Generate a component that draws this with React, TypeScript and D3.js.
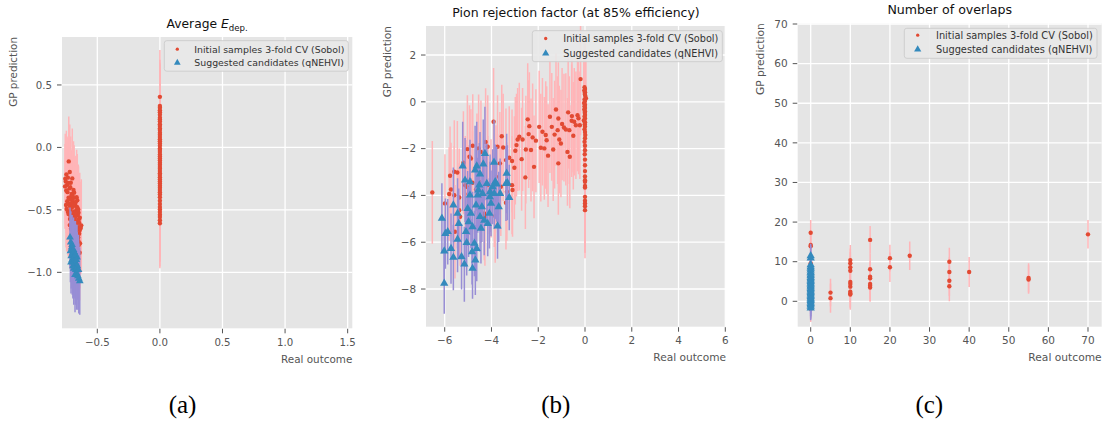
import React, { useEffect } from 'react';
import * as d3 from 'd3';

type P = [number, number, number]; // [real outcome, GP prediction, error half-width]

// ---------------- Panel (a): Average E_dep. ----------------
const A_SOBOL: P[] = [
  [-0.728,-0.112,0.36],[-0.720,-0.197,0.38],[-0.747,-0.216,0.35],[-0.735,-0.242,0.33],[-0.756,-0.251,0.36],
  [-0.700,-0.248,0.40],[-0.712,-0.283,0.37],[-0.742,-0.300,0.35],[-0.758,-0.312,0.34],[-0.722,-0.328,0.36],
  [-0.690,-0.341,0.39],[-0.738,-0.358,0.35],[-0.685,-0.362,0.38],[-0.705,-0.372,0.35],[-0.708,-0.391,0.36],
  [-0.730,-0.402,0.36],[-0.665,-0.398,0.38],[-0.690,-0.404,0.37],[-0.700,-0.421,0.37],[-0.660,-0.423,0.37],
  [-0.740,-0.431,0.35],[-0.680,-0.442,0.36],[-0.725,-0.452,0.36],[-0.750,-0.461,0.34],[-0.675,-0.463,0.38],
  [-0.720,-0.468,0.37],[-0.695,-0.474,0.38],[-0.705,-0.482,0.36],[-0.660,-0.479,0.36],[-0.745,-0.493,0.34],
  [-0.715,-0.502,0.36],[-0.665,-0.501,0.37],[-0.685,-0.512,0.37],[-0.735,-0.514,0.35],[-0.650,-0.522,0.37],
  [-0.730,-0.533,0.35],[-0.692,-0.531,0.36],[-0.700,-0.543,0.36],[-0.655,-0.541,0.36],[-0.672,-0.552,0.38],
  [-0.712,-0.551,0.37],[-0.640,-0.562,0.36],[-0.718,-0.573,0.35],[-0.680,-0.571,0.37],[-0.690,-0.584,0.37],
  [-0.700,-0.592,0.36],[-0.660,-0.593,0.36],[-0.645,-0.604,0.37],[-0.705,-0.611,0.36],[-0.668,-0.612,0.36],
  [-0.628,-0.624,0.37],[-0.720,-0.622,0.35],[-0.680,-0.633,0.37],[-0.690,-0.641,0.37],[-0.655,-0.642,0.36],
  [-0.710,-0.652,0.35],[-0.662,-0.653,0.36],[-0.640,-0.661,0.36],[-0.695,-0.664,0.35],[-0.670,-0.672,0.37],
  [-0.645,-0.691,0.36],[-0.700,-0.702,0.36],[-0.675,-0.704,0.36],[-0.682,-0.713,0.36],[-0.652,-0.722,0.37],
  [-0.658,-0.734,0.35],[-0.650,-0.751,0.35],[-0.672,-0.762,0.37],[-0.648,-0.781,0.36],[-0.665,-0.802,0.36],
  [-0.641,-0.843,0.38],
  [-0.752,-0.272,0.35],[-0.733,-0.285,0.36],[-0.716,-0.318,0.37],[-0.748,-0.345,0.34],[-0.697,-0.386,0.37],
  [-0.718,-0.415,0.36],[-0.672,-0.436,0.37],[-0.708,-0.447,0.36],[-0.688,-0.458,0.37],[-0.652,-0.497,0.36],
  [-0.722,-0.521,0.36],[-0.676,-0.524,0.37],[-0.703,-0.565,0.36],[-0.648,-0.578,0.37],[-0.664,-0.627,0.36],
  [-0.693,-0.622,0.36],[-0.632,-0.645,0.37],[-0.676,-0.687,0.36],[-0.657,-0.706,0.36],[-0.668,-0.742,0.37],
  [-0.638,-0.768,0.36],[-0.655,-0.823,0.37],
  [0,0.405,0.375],[0,0.332,0.37],[0,0.318,0.36],[0,0.297,0.37],[0,0.281,0.38],[0,0.262,0.36],[0,0.238,0.37],
  [0,0.224,0.37],[0,0.207,0.36],[0,0.186,0.38],[0,0.171,0.37],[0,0.152,0.36],[0,0.139,0.37],[0,0.118,0.37],
  [0,0.101,0.36],[0,0.083,0.38],[0,0.066,0.37],[0,0.049,0.36],[0,0.031,0.37],[0,0.014,0.37],[0,-0.008,0.36],
  [0,-0.021,0.38],[0,-0.037,0.37],[0,-0.056,0.36],[0,-0.072,0.37],[0,-0.089,0.37],[0,-0.104,0.36],[0,-0.123,0.38],
  [0,-0.138,0.37],[0,-0.157,0.36],[0,-0.171,0.37],[0,-0.189,0.37],[0,-0.206,0.36],[0,-0.221,0.38],[0,-0.239,0.37],
  [0,-0.256,0.36],[0,-0.273,0.37],[0,-0.288,0.37],[0,-0.306,0.36],[0,-0.322,0.38],[0,-0.341,0.37],[0,-0.359,0.36],
  [0,-0.377,0.37],[0,-0.398,0.37],[0,-0.426,0.36],[0,-0.452,0.37],[0,-0.476,0.36],[0,-0.497,0.37],[0,-0.516,0.36],
  [0,-0.538,0.37],[0,-0.557,0.36],[0,-0.583,0.37],[0,-0.607,0.36],
];
const A_QNEHVI: P[] = [
  [-0.718,-0.72,0.24],[-0.702,-0.78,0.24],[-0.712,-0.76,0.25],[-0.705,-0.80,0.26],[-0.715,-0.83,0.25],
  [-0.683,-0.84,0.25],[-0.698,-0.85,0.27],[-0.690,-0.82,0.26],[-0.708,-0.87,0.26],[-0.685,-0.88,0.27],
  [-0.662,-0.88,0.26],[-0.700,-0.90,0.28],[-0.675,-0.86,0.27],[-0.710,-0.92,0.25],[-0.692,-0.92,0.28],
  [-0.670,-0.93,0.27],[-0.680,-0.94,0.27],[-0.668,-0.90,0.28],[-0.695,-0.95,0.26],[-0.660,-0.95,0.27],
  [-0.688,-0.97,0.29],[-0.672,-0.98,0.28],[-0.650,-0.98,0.28],[-0.665,-1.01,0.29],[-0.678,-1.02,0.30],
  [-0.655,-1.03,0.27],[-0.648,-1.05,0.28],[-0.640,-1.07,0.27],
];
const A_XTICKS = [-0.5, 0, 0.5, 1, 1.5];
const A_YTICKS = [-1, -0.5, 0, 0.5];

// ---------------- Panel (b): Pion rejection factor ----------------
const B_SOBOL: P[] = [
  [-6.53,-3.87,2.2],[-5.99,-4.34,2.1],[-5.81,-3.94,2.0],[-5.77,-3.16,2.1],[-5.73,-3.75,2.0],[-5.59,-2.99,2.2],
  [-5.59,-3.99,2.1],[-5.56,-5.55,2.0],[-5.46,-3.02,2.2],[-5.38,-4.09,2.1],[-5.38,-4.63,2.0],[-5.34,-4.91,2.1],
  [-5.12,-3.56,2.1],[-5.06,-3.63,2.0],[-5.03,-2.02,2.3],[-4.98,-3.94,2.1],[-4.94,-2.35,2.2],[-4.88,-2.42,2.1],
  [-4.81,-3.46,2.2],[-4.80,-1.88,2.2],[-4.66,-3.75,2.1],[-4.55,-1.99,2.3],[-4.52,-3.42,2.1],[-4.45,-2.14,2.2],
  [-4.45,-4.03,2.0],[-4.31,-4.77,2.0],[-4.28,-4.91,2.1],[-4.25,-1.72,2.3],[-4.16,-1.92,2.2],[-4.16,-3.56,2.1],
  [-4.02,-3.70,2.1],[-3.91,-0.85,2.3],[-3.88,-4.20,2.0],[-3.84,-4.88,2.0],[-3.81,-3.20,2.2],[-3.74,-1.92,2.2],
  [-3.74,-3.49,2.1],[-3.64,-2.63,2.2],[-3.60,-3.63,2.1],[-3.56,-1.47,2.2],[-3.50,-1.95,2.3],[-3.38,-2.49,2.2],
  [-3.38,-4.31,2.0],[-3.34,-3.84,2.1],[-3.24,-2.39,2.2],[-3.12,-2.53,2.2],[-3.12,-3.56,2.1],[-3.10,-3.77,2.0],
  [-2.98,-2.09,2.3],[-2.93,-1.85,2.2],[-2.88,-1.61,2.2],[-2.81,-1.49,2.3],[-2.67,-1.61,2.2],[-2.55,-3.23,2.2],
  [-2.53,-2.04,2.3],[-2.41,-1.38,2.3],[-2.38,-1.04,2.3],[-2.31,-2.06,2.2],[-2.24,-1.52,2.3],[-2.10,-1.66,2.2],
  [-1.96,-1.07,2.4],[-1.89,-1.96,2.3],[-1.74,-1.99,2.2],[-1.68,-1.42,2.3],[-1.64,-1.64,2.3],[-1.50,-0.64,2.4],
  [-1.42,-1.07,2.3],[-1.36,-2.04,2.2],[-1.24,-0.33,2.4],[-1.17,-1.21,2.3],[-1.14,-0.71,2.4],[-1.14,-2.63,2.2],
  [-1.10,-1.61,2.3],[-1.03,-1.78,2.3],[-0.90,-1.10,2.3],[-0.82,-1.18,2.4],[-0.75,-2.14,2.3],[-0.67,-1.21,2.3],
  [-0.65,-2.35,2.2],[-0.57,-0.81,2.4],[-0.56,-0.61,2.4],[-0.46,-0.85,2.3],[-0.39,-1.00,2.3],[-0.32,-0.57,2.4],
  [-0.22,-1.00,2.3],[-0.19,0.97,2.4],
  [-2.71,-2.45,2.2],[-2.18,-2.78,2.2],[-1.82,-1.28,2.3],[-1.58,-2.30,2.2],[-0.98,-0.95,2.4],[-0.72,-0.45,2.4],
  [-0.50,-1.45,2.3],[-0.28,-0.70,2.4],[-3.02,-2.82,2.2],[-4.62,-2.70,2.2],[-5.20,-2.60,2.2],[-2.45,-0.75,2.4],
  [-1.30,-1.40,2.3],
  [-0.02,0.62,2.0],[0,0.55,2.1],[-0.03,0.48,2.0],[0,0.41,2.1],[-0.01,0.33,2.0],[0.01,0.26,2.1],[0.04,0.15,2.0],
  [-0.02,0.10,2.1],[0,0.03,2.0],[-0.04,-0.05,2.1],[0,-0.12,2.0],[-0.02,-0.19,2.1],[0,-0.26,2.0],[-0.03,-0.33,2.1],
  [0,-0.41,2.0],[-0.01,-0.47,2.1],[0,-0.56,2.0],[-0.02,-0.63,2.1],[0,-0.71,2.0],[-0.05,-0.80,2.1],[0,-0.87,2.0],
  [-0.01,-0.96,2.1],[0,-1.06,2.0],[-0.02,-1.17,2.1],[0,-1.29,2.0],[0.01,-1.42,2.1],[0,-1.56,2.0],[-0.02,-1.71,2.1],
  [0,-1.88,2.0],[0,-2.07,2.1],[-0.01,-2.24,2.0],[0,-2.47,2.1],[0,-2.71,2.0],[0,-2.96,2.1],[0,-3.19,2.0],
  [0,-3.35,2.1],[0,-3.42,2.0],[0,-3.60,2.1],[0,-3.66,2.0],[0,-4.06,2.1],[0,-4.23,2.0],[0,-4.34,2.1],
  [0,-4.46,2.0],[0,-4.63,2.06],
];
const B_QNEHVI: P[] = [
  [-6.12,-4.98,1.5],[-6.02,-6.38,1.4],[-6.02,-7.76,1.3],[-5.97,-5.63,1.5],[-5.87,-5.55,1.4],[-5.73,-6.27,1.5],
  [-5.63,-6.65,1.4],[-5.63,-4.41,1.6],[-5.45,-4.77,1.5],[-5.45,-5.88,1.4],[-5.40,-5.20,1.5],[-5.28,-6.62,1.4],
  [-5.23,-2.75,1.9],[-5.16,-6.94,1.6],[-5.13,-3.35,1.8],[-5.09,-5.55,1.5],[-5.06,-6.02,1.4],[-5.02,-4.56,1.6],
  [-4.98,-5.13,1.5],[-4.92,-3.99,1.7],[-4.92,-3.42,1.8],[-4.88,-4.77,1.5],[-4.83,-6.41,1.4],[-4.81,-7.12,1.3],
  [-4.81,-5.34,1.5],[-4.73,-6.05,1.4],[-4.70,-2.92,1.9],[-4.69,-6.76,1.5],[-4.66,-4.41,1.5],[-4.63,-2.75,1.9],
  [-4.63,-6.27,1.4],[-4.59,-3.99,1.6],[-4.56,-3.77,1.7],[-4.52,-3.56,1.8],[-4.49,-3.09,1.8],[-4.49,-4.91,1.5],
  [-4.45,-5.41,1.5],[-4.41,-4.49,1.5],[-4.38,-3.92,1.6],[-4.35,-2.66,1.9],[-4.31,-5.06,1.5],[-4.28,-2.21,2.0],
  [-4.20,-3.49,1.7],[-4.16,-5.20,1.4],[-4.09,-4.77,1.5],[-4.07,-4.06,1.5],[-4.06,-3.85,1.6],[-4.02,-4.34,1.4],
  [-3.95,-3.63,1.6],[-3.89,-2.59,1.8],[-3.88,-3.92,1.5],[-3.84,-3.42,1.6],[-3.78,-3.52,1.6],[-3.74,-5.31,1.4],
  [-3.69,-4.49,1.5],[-3.63,-3.92,1.5],[-3.38,-3.49,1.6],[-3.35,-3.06,1.7],[-3.32,-3.46,1.6],[-3.24,-4.09,1.4],
];
const B_XTICKS = [-6, -4, -2, 0, 2, 4, 6];
const B_YTICKS = [-8, -6, -4, -2, 0, 2];

// ---------------- Panel (c): Number of overlaps ----------------
const C_SOBOL: P[] = [
  [0,17.3,3.2],[0,14.2,3.4],[0,13.9,3.3],[0,9.6,3.5],[0,8.4,3.4],[0,6.9,3.3],[0,5.3,3.5],[0,3.6,3.4],
  [0,2.1,3.5],[0,0.6,3.3],[0,-0.9,3.4],[0,-1.9,3.3],
  [5,2.2,3.5],[5,0.8,3.7],
  [10,10.4,3.8],[10,9.6,3.7],[10,8.6,3.8],[10,7.7,3.7],[10,4.9,3.8],[10,4.4,3.7],[10,3.7,3.8],[10,2.4,3.9],
  [10,2.0,3.8],[10,1.7,3.8],
  [15,15.5,3.5],[15,8.1,3.9],[15,6.2,3.8],[15,5.8,3.8],[15,4.4,3.9],[15,3.9,3.8],[15,3.5,3.6],
  [20,10.9,3.4],[20,8.6,3.7],
  [25,11.5,3.6],
  [35,10.0,3.5],[35,7.4,3.7],[35,5.2,3.8],[35,3.8,3.8],
  [40,7.4,3.8],
  [55,5.9,3.7],[55,5.5,3.6],
  [70,16.9,3.6],
];
const C_QNEHVI: P[] = [
  [0,11.5,3.0],[0,10.9,3.1],[0,9.2,3.0],[0,8.7,2.9],[0,8.3,3.0],[0,7.9,3.1],[0,7.4,3.0],[0,7.1,2.9],
  [0,6.7,3.0],[0,6.4,3.1],[0,6.0,3.0],[0,5.7,2.9],[0,5.3,3.0],[0,5.0,3.1],[0,4.6,3.0],[0,4.3,2.9],
  [0,3.9,3.0],[0,3.6,3.1],[0,3.2,3.0],[0,2.9,2.9],[0,2.5,3.0],[0,2.2,3.1],[0,1.9,3.0],[0,1.5,2.9],
  [0,1.2,3.0],[0,0.8,3.1],[0,0.5,3.0],[0,0.2,2.9],[0,-0.2,3.0],[0,-0.6,3.1],[0,-0.9,3.0],[0,-1.3,3.1],
  [0,-1.7,3.1],
];
const C_XTICKS = [0, 10, 20, 30, 40, 50, 60, 70];
const C_YTICKS = [0, 10, 20, 30, 40, 50, 60, 70];

const LEGEND_LABELS = ['Initial samples 3-fold CV (Sobol)', 'Suggested candidates (qNEHVI)'];
const X_LABEL = 'Real outcome';
const Y_LABEL = 'GP prediction';

const RED = '#E24A33';
const BLUE = '#348ABD';
const PINK = '#FFB5B8';
const PURPLE = '#988ED5';
const BG = '#E5E5E5';
const TXT = '#555555';
const FONT = '"DejaVu Sans", Verdana, sans-serif';

interface Cfg {
  id: string;
  left: number; top: number; right: number; bottom: number;
  xDomain: [number, number]; yDomain: [number, number];
  xTicks: number[]; yTicks: number[];
  fmt: (n: number) => string;
  sobol: P[]; qnehvi: P[];
  title: React.ReactNode; titleFs: number;
  tickFs: number; labelFs: number; legendFs: number;
  ylabelX: number;
  leg: { w: number; h: number; mx: number; tx: number; r1: number; r2: number; dx: number; dy: number };
  caption: string; captionX: number;
  tri: number; dot: number;
}

const fmt1 = d3.format('.1f');
const fmt0 = d3.format('d');

function Panel({ c }: { c: Cfg }) {
  const x = d3.scaleLinear().domain(c.xDomain).range([c.left, c.right]);
  const y = d3.scaleLinear().domain(c.yDomain).range([c.bottom, c.top]);
  const tri = d3.symbol().type(d3.symbolTriangle).size(c.tri)()!;
  const legTri = d3.symbol().type(d3.symbolTriangle).size(c.tri * 0.75)()!;
  const lx = c.right - c.leg.dx - c.leg.w;
  const ly = c.top + c.leg.dy;
  const cx = (c.left + c.right) / 2;
  return (
    <g>
      <defs>
        <clipPath id={'clip-' + c.id}>
          <rect x={c.left} y={c.top} width={c.right - c.left} height={c.bottom - c.top} />
        </clipPath>
      </defs>
      <rect x={c.left} y={c.top} width={c.right - c.left} height={c.bottom - c.top} fill={BG} />
      {c.xTicks.map((t) => (
        <line key={'gx' + t} x1={x(t)} x2={x(t)} y1={c.top} y2={c.bottom} stroke="#fff" strokeWidth={1.3} />
      ))}
      {c.yTicks.map((t) => (
        <line key={'gy' + t} x1={c.left} x2={c.right} y1={y(t)} y2={y(t)} stroke="#fff" strokeWidth={1.3} />
      ))}
      <g clipPath={`url(#clip-${c.id})`}>
        {c.sobol.map((d, i) => (
          <line key={'se' + i} x1={x(d[0])} x2={x(d[0])} y1={y(d[1] - d[2])} y2={y(d[1] + d[2])}
            stroke={PINK} strokeWidth={1.5} />
        ))}
        {c.sobol.map((d, i) => (
          <circle key={'sp' + i} cx={x(d[0])} cy={y(d[1])} r={c.dot} fill={RED} />
        ))}
        {c.qnehvi.map((d, i) => (
          <line key={'qe' + i} x1={x(d[0])} x2={x(d[0])} y1={y(d[1] - d[2])} y2={y(d[1] + d[2])}
            stroke={PURPLE} strokeWidth={1.5} />
        ))}
        {c.qnehvi.map((d, i) => (
          <path key={'qp' + i} d={tri} transform={`translate(${x(d[0])},${y(d[1])})`} fill={BLUE} />
        ))}
      </g>
      {c.xTicks.map((t) => (
        <g key={'tx' + t}>
          <line x1={x(t)} x2={x(t)} y1={c.bottom + 0.5} y2={c.bottom + 5} stroke={TXT} strokeWidth={1} />
          <text x={x(t)} y={c.bottom + 17.5} fontSize={c.tickFs} fill={TXT} textAnchor="middle" fontFamily={FONT}>
            {c.fmt(t)}
          </text>
        </g>
      ))}
      {c.yTicks.map((t) => (
        <g key={'ty' + t}>
          <line x1={c.left - 5} x2={c.left - 0.5} y1={y(t)} y2={y(t)} stroke={TXT} strokeWidth={1} />
          <text x={c.left - 10} y={y(t)} dy="0.36em" fontSize={c.tickFs} fill={TXT} textAnchor="end" fontFamily={FONT}>
            {c.fmt(t)}
          </text>
        </g>
      ))}
      <text x={c.right} y={c.bottom + 34.5} fontSize={c.labelFs} fill={TXT} textAnchor="end" fontFamily={FONT}>
        {X_LABEL}
      </text>
      <text transform={`translate(${c.ylabelX},${c.top}) rotate(-90)`} fontSize={c.labelFs} fill={TXT}
        textAnchor="end" fontFamily={FONT}>
        {Y_LABEL}
      </text>
      <text x={cx} y={c.top - 9} fontSize={c.titleFs} fill="#111" textAnchor="middle" fontFamily={FONT}>
        {c.title}
      </text>
      <rect x={lx} y={ly} width={c.leg.w} height={c.leg.h} rx={2.5} fill="#E8E8E8" fillOpacity={0.9}
        stroke="#CCCCCC" strokeWidth={0.9} />
      <circle cx={lx + c.leg.mx} cy={ly + c.leg.r1} r={c.dot * 0.75} fill={RED} />
      <path d={legTri} transform={`translate(${lx + c.leg.mx},${ly + c.leg.r2})`} fill={BLUE} />
      <text x={lx + c.leg.tx} y={ly + c.leg.r1} dy="0.36em" fontSize={c.legendFs} fill="#333" fontFamily={FONT}>
        {LEGEND_LABELS[0]}
      </text>
      <text x={lx + c.leg.tx} y={ly + c.leg.r2} dy="0.36em" fontSize={c.legendFs} fill="#333" fontFamily={FONT}>
        {LEGEND_LABELS[1]}
      </text>
      <text x={c.captionX} y={413} fontSize={25} fill="#000" textAnchor="middle"
        fontFamily='"Liberation Serif", "Times New Roman", serif'>
        {c.caption}
      </text>
    </g>
  );
}

const PANELS: Cfg[] = [
  {
    id: 'a', left: 62, top: 37, right: 352.3, bottom: 328.3,
    xDomain: [-0.782, 1.537], yDomain: [-1.448, 0.884],
    xTicks: A_XTICKS, yTicks: A_YTICKS, fmt: fmt1,
    sobol: A_SOBOL, qnehvi: A_QNEHVI,
    title: (
      <>
        {'Average '}
        <tspan fontStyle="italic">E</tspan>
        <tspan fontSize={8.6} dy={3}>dep.</tspan>
      </>
    ),
    titleFs: 12.3, tickFs: 10.2, labelFs: 10.4, legendFs: 9.4, ylabelX: 17,
    leg: { w: 184, h: 30.5, mx: 13, tx: 30, r1: 8.5, r2: 22, dx: 4, dy: 3.7 },
    caption: '(a)', captionX: 182.5, tri: 26, dot: 2.2,
  },
  {
    id: 'b', left: 426, top: 26, right: 726, bottom: 326.7,
    xDomain: [-6.8, 6.03], yDomain: [-9.61, 3.24],
    xTicks: B_XTICKS, yTicks: B_YTICKS, fmt: fmt0,
    sobol: B_SOBOL, qnehvi: B_QNEHVI,
    title: 'Pion rejection factor (at 85% efficiency)',
    titleFs: 12.5, tickFs: 10.4, labelFs: 10.6, legendFs: 9.7, ylabelX: 391,
    leg: { w: 190, h: 31, mx: 13.4, tx: 31, r1: 7.8, r2: 22.6, dx: 3.7, dy: 4.7 },
    caption: '(b)', captionX: 555.8, tri: 30, dot: 2.2,
  },
  {
    id: 'c', left: 797.7, top: 23.3, right: 1101.7, bottom: 326.7,
    xDomain: [-3.28, 73.46], yDomain: [-6.41, 70.18],
    xTicks: C_XTICKS, yTicks: C_YTICKS, fmt: fmt0,
    sobol: C_SOBOL, qnehvi: C_QNEHVI,
    title: 'Number of overlaps',
    titleFs: 12.6, tickFs: 10.5, labelFs: 10.7, legendFs: 9.8, ylabelX: 764.4,
    leg: { w: 192.7, h: 30, mx: 13.4, tx: 31.7, r1: 6.9, r2: 21, dx: 4.7, dy: 5 },
    caption: '(c)', captionX: 929.3, tri: 30, dot: 2.2,
  },
];

export default function App() {
  useEffect(() => {
    document.body.style.margin = '0';
  }, []);
  return (
    <div style={{ position: 'absolute', left: 0, top: 0 }}>
      <svg width={1106} height={426} viewBox="0 0 1106 426" style={{ display: 'block', background: '#fff' }}>
        {PANELS.map((c) => (
          <Panel key={c.id} c={c} />
        ))}
      </svg>
    </div>
  );
}
